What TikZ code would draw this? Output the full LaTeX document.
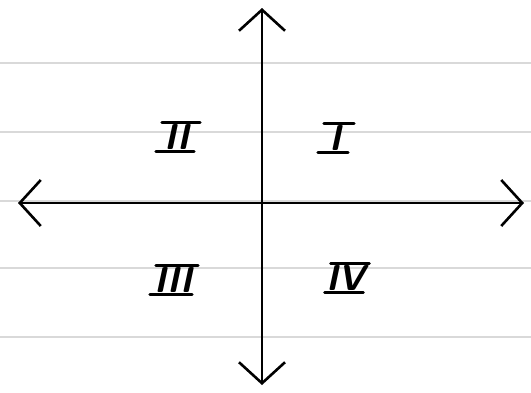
\documentclass[tikz,border=0pt]{standalone}
\usetikzlibrary{arrows.meta}
\tikzset{barbtip/.tip={Straight Barb[length=21pt,width=46pt,line width=2.6pt]}}
\begin{document}
\begin{tikzpicture}[x=1pt,y=-1pt,
  ruling/.style={draw=black!15,line width=1.6pt},
  axis/.style={draw=black,line width=2.6pt,line cap=round},
  numeral/.style={inner xsep=0pt,inner ysep=2pt,text height=25pt,text depth=0pt,
    font=\fontsize{36}{36}\selectfont\sffamily\bfseries\slshape,align=center},
  numbar/.style={draw=black,line width=2.8pt,line cap=round}]
\useasboundingbox (0,0) rectangle (531,392);
\fill[white] (0,0) rectangle (531,392);
\foreach \yy in {63,132,201,268,337} \draw[ruling] (0,\yy) -- (531,\yy);
\coordinate (L) at (18,203);
\coordinate (R) at (524,203);
\coordinate (T) at (262,8);
\coordinate (B) at (262,385);
\draw[axis,barbtip-barbtip] (L) -- (R);
\draw[axis,barbtip-barbtip] (B) -- (T);
% quadrant labels
\node[numeral,minimum width=30pt] (q1) at (335,138) {I};
\node[numeral,minimum width=38pt] (q2) at (177,137) {II};
\node[numeral,minimum width=42pt] (q3) at (173,280) {III};
\node[numeral,minimum width=38pt] (q4) at (346,278) {IV};
\foreach \q in {q1,q2,q3,q4}{
  \draw[numbar] ([xshift=4pt]\q.north west) -- ([xshift=4pt]\q.north east);
  \draw[numbar] ([xshift=-2pt]\q.south west) -- ([xshift=-2pt]\q.south east);
}
\end{tikzpicture}
\end{document}
